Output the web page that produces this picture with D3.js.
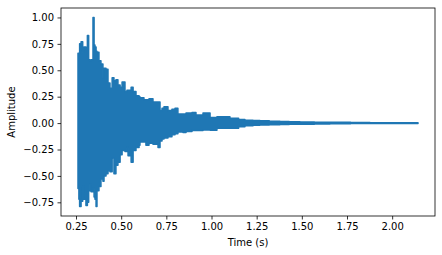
<!DOCTYPE html>
<html>
<head>
<meta charset="utf-8">
<script src="https://cdn.jsdelivr.net/npm/d3@7"></script>
<style>
  body { margin: 0; background: #fff; }
  svg { display: block; font-family: "DejaVu Sans", sans-serif; }
</style>
</head>
<body>
<div id="chart"></div>
<script>
// envelope of the signal (seconds / amplitude)
const times = [0.261, 0.266, 0.270, 0.278, 0.287, 0.294, 0.305, 0.313, 0.320, 0.327,
    0.333, 0.344, 0.350, 0.355, 0.361, 0.366, 0.377, 0.388, 0.399, 0.405,
    0.416, 0.427, 0.438, 0.450, 0.460, 0.471, 0.482, 0.494, 0.505, 0.521,
    0.532, 0.538, 0.555, 0.566, 0.582, 0.599, 0.604, 0.626, 0.637, 0.654,
    0.676, 0.704, 0.715, 0.726, 0.737, 0.759, 0.781, 0.798, 0.814, 0.842,
    0.859, 0.892, 0.914, 0.953, 0.992, 1.030, 1.102, 1.150, 1.185, 1.230,
    1.268, 1.320, 1.379, 1.430, 1.490, 1.570, 1.656, 1.770, 1.877, 2.000,
    2.143];
const upper = [0.66, 0.66, 0.75, 0.77, 0.67, 0.72, 0.70, 0.83, 0.60, 0.59,
    0.60, 1.00, 0.74, 0.72, 0.68, 0.67, 0.59, 0.56, 0.43, 0.52,
    0.51, 0.38, 0.33, 0.43, 0.40, 0.41, 0.36, 0.34, 0.39, 0.30,
    0.31, 0.31, 0.34, 0.30, 0.26, 0.25, 0.24, 0.22, 0.22, 0.23,
    0.20, 0.20, 0.12, 0.14, 0.155, 0.12, 0.13, 0.14, 0.085, 0.085,
    0.095, 0.10, 0.076, 0.095, 0.053, 0.06, 0.047, 0.035, 0.026, 0.024,
    0.021, 0.018, 0.016, 0.013, 0.011, 0.009, 0.007, 0.005, 0.004, 0.003,
    0.002];
const lower = [-0.62, -0.72, -0.79, -0.74, -0.60, -0.72, -0.78, -0.75, -0.64, -0.58,
    -0.65, -0.62, -0.70, -0.72, -0.79, -0.64, -0.60, -0.53, -0.55, -0.50,
    -0.48, -0.45, -0.46, -0.33, -0.48, -0.40, -0.37, -0.30, -0.26, -0.27,
    -0.23, -0.31, -0.37, -0.26, -0.23, -0.21, -0.18, -0.18, -0.21, -0.19,
    -0.20, -0.23, -0.17, -0.15, -0.14, -0.13, -0.11, -0.10, -0.085, -0.09,
    -0.08, -0.07, -0.07, -0.065, -0.067, -0.05, -0.048, -0.034, -0.024, -0.020,
    -0.018, -0.016, -0.014, -0.012, -0.010, -0.008, -0.007, -0.005, -0.004, -0.003,
    -0.002];
const xTicks = [0.25, 0.50, 0.75, 1.00, 1.25, 1.50, 1.75, 2.00];
const yTicks = [-0.75, -0.50, -0.25, 0.00, 0.25, 0.50, 0.75, 1.00];

const width = 442;
const height = 255;
const margin = { top: 8, right: 7, bottom: 39, left: 61 };
const innerW = width - margin.left - margin.right;
const innerH = height - margin.top - margin.bottom;
const blue = '#1f77b4';

const svg = d3.select('#chart')
    .append('svg')
    .attr('width', width)
    .attr('height', height);

const g = svg.append('g')
    .attr('transform', `translate(${margin.left},${margin.top})`);

// matplotlib style 5% margins around the data
const xMin = d3.min(times), xMax = d3.max(times);
const yMin = d3.min(lower), yMax = d3.max(upper);
const xPad = (xMax - xMin) * 0.05, yPad = (yMax - yMin) * 0.05;

const x = d3.scaleLinear().domain([xMin - xPad, xMax + xPad]).range([0, innerW]);
const y = d3.scaleLinear().domain([yMin - yPad, yMax + yPad]).range([innerH, 0]);

const rows = times.map((t, i) => ({ t, hi: upper[i], lo: lower[i] }));

const area = d3.area()
    .curve(d3.curveStepAfter)
    .x(d => x(d.t))
    .y0(d => y(d.lo))
    .y1(d => y(d.hi));

g.append('path')
    .datum(rows)
    .attr('d', area)
    .attr('fill', blue)
    .attr('stroke', blue)
    .attr('stroke-width', 1.5)
    .attr('stroke-linejoin', 'round');

const xAxis = g.append('g')
    .attr('transform', `translate(0,${innerH})`)
    .call(d3.axisBottom(x).tickValues(xTicks).tickFormat(d3.format('.2f')).tickSizeOuter(0).tickSize(3.5).tickPadding(3.5));

const yAxis = g.append('g')
    .call(d3.axisLeft(y).tickValues(yTicks).tickFormat(d => d3.format('.2f')(d).replace('-', '\u2212')).tickSizeOuter(0).tickSize(3.5).tickPadding(3.5));

[xAxis, yAxis].forEach(a => {
    a.select('.domain').remove();
    a.selectAll('line').attr('stroke', '#000').attr('stroke-width', 0.8);
    a.selectAll('text').attr('font-size', 10).attr('fill', '#000')
        .style('font-family', '"DejaVu Sans", sans-serif');
});

g.append('rect')
    .attr('width', innerW)
    .attr('height', innerH)
    .attr('fill', 'none')
    .attr('stroke', '#000')
    .attr('stroke-width', 0.8);

svg.append('text')
    .attr('x', margin.left + innerW / 2)
    .attr('y', 246)
    .attr('text-anchor', 'middle')
    .attr('font-size', 10)
    .text('Time (s)');

svg.append('text')
    .attr('transform', `translate(15,${margin.top + innerH / 2}) rotate(-90)`)
    .attr('text-anchor', 'middle')
    .attr('font-size', 10)
    .text('Amplitude');
</script>
</body>
</html>
